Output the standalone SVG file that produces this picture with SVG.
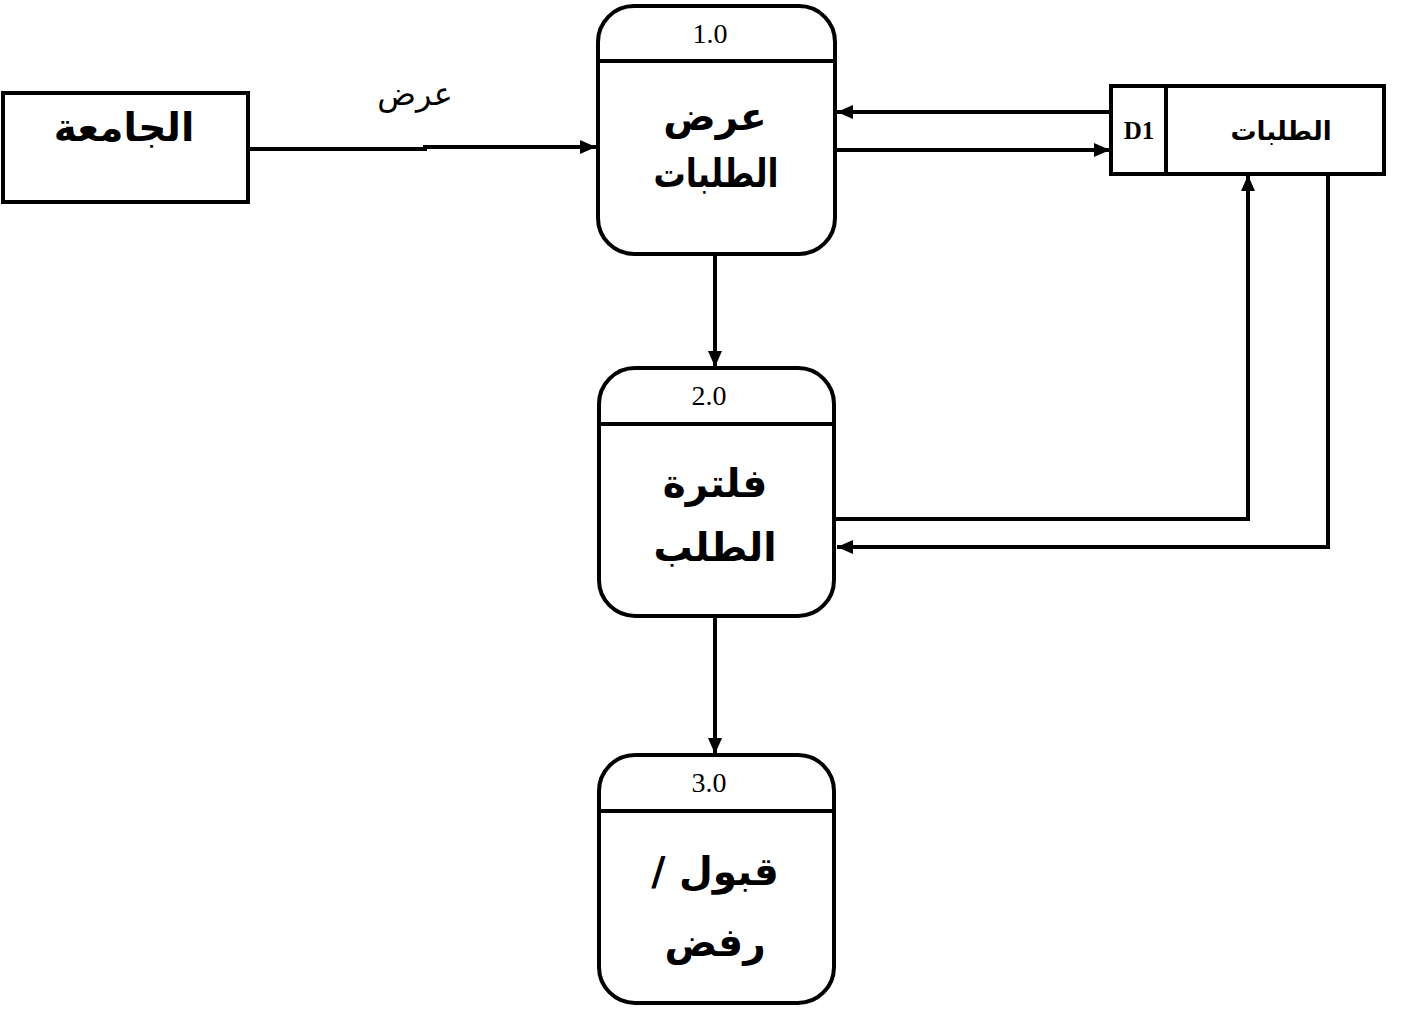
<svg xmlns="http://www.w3.org/2000/svg" width="1411" height="1010" viewBox="0 0 1411 1010">
<defs>
<marker id="ah" markerUnits="userSpaceOnUse" markerWidth="16" markerHeight="14" viewBox="0 0 16 14" refX="16" refY="7" orient="auto">
<path d="M0,0 L16,7 L0,14 Z" fill="#000"/>
</marker>
</defs>
<style>
.box{fill:#fff;stroke:#000;stroke-width:4}
.ln{fill:none;stroke:#000;stroke-width:4}
.flow{fill:none;stroke:#000;stroke-width:4;marker-end:url(#ah)}
.num{font-family:"Liberation Serif",serif;font-size:28px;fill:#000;text-anchor:middle}
.ar{font-family:"DejaVu Sans","Noto Sans",sans-serif;font-weight:bold;fill:#000;text-anchor:middle}
.big{font-size:39px}
</style>
<rect width="1411" height="1010" fill="#fff"/>
<g id="connectors">
<polyline class="flow" points="249,149 425,149 425,147 596,147"/>
<line class="flow" x1="1110" y1="112" x2="837" y2="112"/>
<line class="flow" x1="837" y1="150" x2="1110" y2="150"/>
<line class="flow" x1="715" y1="256" x2="715" y2="367"/>
<polyline class="flow" points="836,519 1248,519 1248,175"/>
<polyline class="flow" points="1328,175 1328,547 837,547"/>
<line class="flow" x1="715" y1="618" x2="715" y2="754"/>
<text x="415" y="105" style="font-family:'DejaVu Sans',sans-serif;font-size:32px;text-anchor:middle" direction="rtl">عرض</text>
</g>
<g id="entity-university">
<rect class="box" x="3" y="93" width="245" height="109"/>
<text class="ar" x="124" y="141" style="font-size:39px" direction="rtl">الجامعة</text>
</g>
<g id="process-1">
<rect class="box" x="598" y="6" width="237" height="248" rx="36"/>
<line class="ln" x1="598" y1="61" x2="835" y2="61"/>
<text class="num" x="710" y="43">1.0</text>
<text class="ar big" x="715" y="130" direction="rtl">عرض</text>
<text class="ar big" x="716" y="187" direction="rtl" textLength="125" lengthAdjust="spacingAndGlyphs">الطلبات</text>
</g>
<g id="datastore-d1">
<rect class="box" x="1111" y="86" width="273" height="88"/>
<line class="ln" x1="1166" y1="86" x2="1166" y2="174"/>
<text x="1139" y="139" style="font-family:'Liberation Serif',serif;font-weight:bold;font-size:25px;text-anchor:middle">D1</text>
<text class="ar" x="1281" y="140" style="font-size:26px" direction="rtl">الطلبات</text>
</g>
<g id="process-2">
<rect class="box" x="599" y="368" width="235" height="248" rx="36"/>
<line class="ln" x1="599" y1="424" x2="834" y2="424"/>
<text class="num" x="709" y="405">2.0</text>
<text class="ar big" x="715" y="497" direction="rtl">فلترة</text>
<text class="ar big" x="715" y="561" direction="rtl">الطلب</text>
</g>
<g id="process-3">
<rect class="box" x="599" y="755" width="235" height="248" rx="36"/>
<line class="ln" x1="599" y1="811" x2="834" y2="811"/>
<text class="num" x="709" y="792">3.0</text>
<text class="ar big" x="715" y="885" direction="rtl">قبول /</text>
<text class="ar big" x="715" y="956" direction="rtl">رفض</text>
</g>
</svg>
